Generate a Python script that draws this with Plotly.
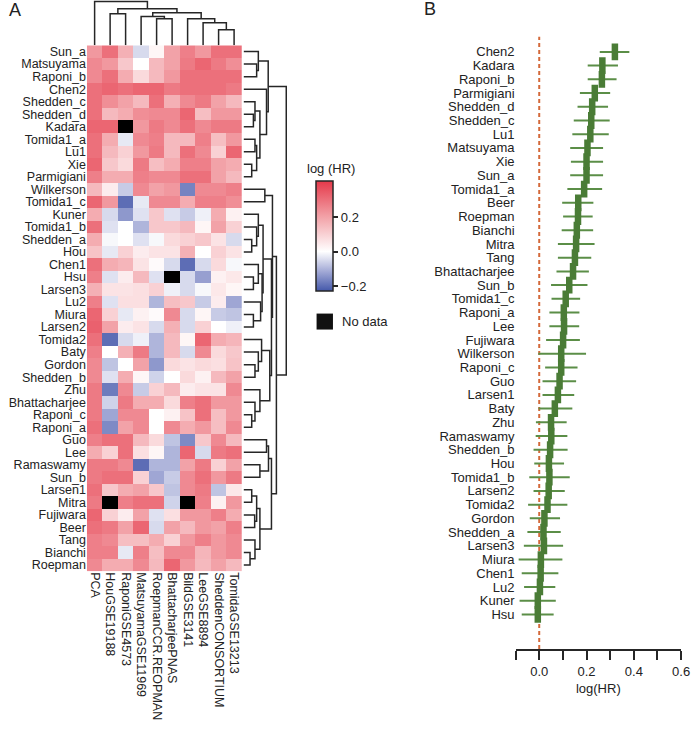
import plotly.graph_objects as go

# ---------------- data ----------------
row_names = ["Sun_a", "Matsuyama", "Raponi_b", "Chen2", "Shedden_c", "Shedden_d", "Kadara",
             "Tomida1_a", "Lu1", "Xie", "Parmigiani", "Wilkerson", "Tomida1_c", "Kuner",
             "Tomida1_b", "Shedden_a", "Hou", "Chen1", "Hsu", "Larsen3", "Lu2", "Miura",
             "Larsen2", "Tomida2", "Baty", "Gordon", "Shedden_b", "Zhu", "Bhattacharjee",
             "Raponi_c", "Raponi_a", "Guo", "Lee", "Ramaswamy", "Sun_b", "Larsen1", "Mitra",
             "Fujiwara", "Beer", "Tang", "Bianchi", "Roepman"]

col_names = ["PCA", "HouGSE19188", "RaponiGSE4573", "MatsuyamaGSE11969", "RoepmanCCR.REOPMAN",
             "BhattacharjeePNAS", "BildGSE3141", "LeeGSE8894", "SheddenCONSORTIUM", "TomidaGSE13213"]

N = None
log_hr = [
    [0.22, 0.30, 0.17, -0.05, 0.02, 0.20, 0.27, 0.22, 0.30, 0.30],
    [0.25, 0.22, 0.12, 0.00, 0.15, 0.20, 0.28, 0.32, 0.28, 0.24],
    [0.25, 0.30, 0.18, 0.08, 0.15, 0.22, 0.30, 0.30, 0.30, 0.30],
    [0.30, 0.32, 0.30, 0.32, 0.32, 0.28, 0.30, 0.30, 0.30, 0.28],
    [0.30, 0.24, 0.20, 0.15, 0.30, 0.17, 0.25, 0.28, 0.20, 0.15],
    [0.30, 0.15, 0.18, 0.24, 0.25, 0.25, 0.32, 0.14, 0.22, 0.22],
    [0.32, 0.32, N, 0.22, 0.28, 0.25, 0.30, 0.25, 0.28, 0.28],
    [0.30, 0.18, -0.03, 0.25, 0.27, 0.15, 0.15, 0.27, 0.14, 0.22],
    [0.30, 0.15, 0.10, 0.22, 0.28, 0.15, 0.30, 0.25, 0.10, 0.32],
    [0.32, 0.12, 0.08, 0.28, 0.14, 0.18, 0.27, 0.27, 0.20, 0.18],
    [0.27, 0.18, 0.18, 0.27, 0.25, 0.25, 0.30, 0.30, 0.20, 0.15],
    [0.15, 0.04, -0.07, 0.25, 0.20, 0.22, -0.17, 0.25, 0.25, 0.27],
    [0.32, 0.22, -0.20, -0.03, 0.25, 0.25, 0.18, 0.27, 0.27, 0.24],
    [0.18, -0.05, -0.14, -0.04, 0.12, -0.04, -0.07, -0.02, 0.18, 0.03],
    [0.30, -0.04, 0.00, -0.10, 0.12, 0.12, 0.15, 0.02, 0.20, 0.10],
    [0.18, -0.01, 0.00, -0.04, -0.01, 0.08, 0.10, 0.12, 0.06, -0.05],
    [0.13, -0.03, 0.10, 0.04, 0.06, 0.06, 0.17, 0.00, 0.10, 0.06],
    [0.30, 0.18, 0.16, 0.06, 0.01, -0.05, -0.20, -0.05, 0.08, -0.01],
    [0.27, -0.04, 0.04, 0.15, -0.04, N, -0.05, -0.13, 0.03, 0.05],
    [0.17, 0.06, 0.06, 0.07, 0.10, -0.02, -0.05, -0.01, 0.05, 0.02],
    [0.27, -0.04, 0.07, 0.07, -0.10, 0.14, 0.12, -0.07, 0.04, -0.12],
    [0.32, 0.10, -0.03, 0.03, 0.01, 0.25, -0.05, 0.02, -0.07, -0.08],
    [0.33, 0.20, 0.04, 0.06, -0.05, 0.17, -0.05, 0.10, 0.00, -0.02],
    [0.30, -0.20, -0.05, -0.02, -0.10, 0.15, 0.02, 0.32, 0.18, 0.16],
    [0.27, 0.00, 0.17, 0.28, -0.10, 0.15, -0.05, 0.25, 0.08, 0.12],
    [0.25, -0.08, 0.00, 0.20, -0.14, 0.08, 0.06, 0.08, 0.07, 0.13],
    [0.25, -0.04, 0.18, 0.02, -0.06, 0.00, 0.08, 0.03, 0.15, 0.20],
    [0.28, -0.18, 0.25, -0.07, 0.10, 0.15, 0.04, 0.06, 0.06, 0.25],
    [0.28, -0.06, 0.28, 0.18, 0.18, 0.08, 0.27, 0.30, 0.22, 0.22],
    [0.28, -0.12, 0.25, 0.25, 0.00, 0.03, 0.13, 0.30, 0.14, 0.22],
    [0.30, -0.16, 0.20, 0.25, 0.00, 0.25, 0.18, 0.22, 0.14, 0.25],
    [0.27, 0.30, 0.30, 0.15, 0.08, -0.08, -0.16, 0.12, 0.25, 0.15],
    [0.18, 0.10, 0.30, 0.07, 0.02, -0.10, 0.32, -0.05, 0.28, 0.30],
    [0.28, 0.28, 0.25, -0.20, -0.10, -0.10, 0.20, 0.28, 0.10, 0.20],
    [0.28, 0.30, 0.30, 0.10, -0.12, -0.07, 0.25, 0.30, 0.22, 0.28],
    [0.30, 0.12, 0.18, 0.20, 0.12, -0.08, 0.25, 0.28, -0.08, 0.05],
    [0.28, N, 0.27, 0.30, 0.30, -0.06, N, 0.27, 0.03, 0.22],
    [0.32, 0.10, 0.04, 0.20, -0.04, 0.07, 0.22, 0.22, 0.27, 0.18],
    [0.30, 0.28, 0.20, 0.32, -0.05, 0.20, 0.15, 0.22, 0.20, 0.27],
    [0.27, 0.25, 0.14, 0.14, 0.18, 0.10, 0.22, 0.27, 0.22, 0.25],
    [0.27, 0.27, -0.03, 0.27, 0.14, 0.25, 0.25, 0.16, 0.22, 0.25],
    [0.25, 0.18, 0.18, 0.25, 0.15, 0.32, 0.22, 0.15, 0.20, 0.15],
]

# dendrograms: (merge height, left, right); leaves are row / column indices
col_tree = (44, 0, (36.7, (31.7, 1, 2),
                    (32.7, (29, 3, (26.7, 4, 5)),
                           (26.7, 6, (22.7, 7, (15.7, 8, 9))))))

row_top = (24.7, (14.7, 0, (13, 1, 2)),
           (23, 3, (16.3, (11.3, 4, (9.7, 5, 6)), (13, (11.3, 7, 8), (8, 9, 10)))))
row_mid = (29, (21.3, 11, 12),
           (28, (19.5, (14.7, 13, (13, 14, (8, 15, 16))),
                 (18.5, (14.7, 17, (9.7, 18, 19)), (17, 20, (9.7, 21, 22)))),
                (26.3, (18, 23, (14.7, 24, (11.3, 25, 26))),
                       (16.3, 27, (11.3, 28, (8, 29, 30))))))
row_low = (28, (25, (23, 31, 32), (16.3, 33, 34)),
           (16.3, (13, (8, 35, 36), (11, 37, 38)), (11.3, 39, (6.3, 40, 41))))
row_tree = (43, row_top, (33, row_mid, row_low))

forest_names = ["Chen2", "Kadara", "Raponi_b", "Parmigiani", "Shedden_d", "Shedden_c", "Lu1",
                "Matsuyama", "Xie", "Sun_a", "Tomida1_a", "Beer", "Roepman", "Bianchi", "Mitra",
                "Tang", "Bhattacharjee", "Sun_b", "Tomida1_c", "Raponi_a", "Lee", "Fujiwara",
                "Wilkerson", "Raponi_c", "Guo", "Larsen1", "Baty", "Zhu", "Ramaswamy",
                "Shedden_b", "Hou", "Tomida1_b", "Larsen2", "Tomida2", "Gordon", "Shedden_a",
                "Larsen3", "Miura", "Chen1", "Lu2", "Kuner", "Hsu"]
forest_est = [0.320, 0.267, 0.265, 0.235, 0.224, 0.220, 0.216, 0.204, 0.200, 0.200, 0.190,
              0.165, 0.164, 0.159, 0.156, 0.151, 0.143, 0.127, 0.112, 0.104, 0.105, 0.101,
              0.093, 0.093, 0.086, 0.079, 0.066, 0.050, 0.051, 0.046, 0.041, 0.043, 0.040,
              0.035, 0.022, 0.018, 0.020, 0.007, 0.006, 0.003, -0.006, -0.006]
forest_lo = [0.256, 0.205, 0.205, 0.172, 0.162, 0.146, 0.140, 0.131, 0.134, 0.131, 0.119,
             0.097, 0.101, 0.095, 0.079, 0.079, 0.073, 0.050, 0.052, 0.043, 0.043, 0.029,
             -0.004, 0.025, 0.014, 0.014, -0.003, -0.014, -0.015, -0.024, -0.021, -0.042,
             -0.024, -0.047, -0.040, -0.050, -0.065, -0.087, -0.074, -0.064, -0.083, -0.074]
forest_hi = [0.381, 0.333, 0.327, 0.300, 0.291, 0.298, 0.294, 0.270, 0.270, 0.270, 0.266,
             0.229, 0.226, 0.228, 0.234, 0.220, 0.210, 0.204, 0.173, 0.170, 0.169, 0.172,
             0.198, 0.162, 0.156, 0.148, 0.140, 0.116, 0.119, 0.120, 0.105, 0.129, 0.108,
             0.119, 0.088, 0.091, 0.101, 0.098, 0.081, 0.068, 0.070, 0.061]

forest_ticks = [-0.1, 0.0, 0.1, 0.2, 0.3, 0.4, 0.5, 0.6]
forest_ticktext = ["", "0.0", "", "0.2", "", "0.4", "", "0.6"]
cbar_ticks = [-0.2, 0.0, 0.2]
cbar_ticktext = ["\u22120.2", "0.0", "0.2"]

# ---------------- helpers ----------------
W, H = 699, 737
FONT = "Liberation Sans, Arial, Helvetica, sans-serif"
TXT = "#222222"
LINE = "#262626"


def px(x):
    return x / W


def py(y):
    return 1 - y / H


def dendro(node):
    if isinstance(node, int):
        return float(node), 0.0, []
    h, a, b = node
    pa, ha, sa = dendro(a)
    pb, hb, sb = dendro(b)
    seg = [(pa, ha), (pa, h), (pb, h), (pb, hb)]
    return (pa + pb) / 2, h, sa + sb + [seg]


def seg_xy(segs, swap=False):
    xs, ys = [], []
    for s in segs:
        for p, h in s:
            if swap:
                xs.append(h); ys.append(p)
            else:
                xs.append(p); ys.append(h)
        xs.append(None); ys.append(None)
    return xs, ys


# ---------------- figure ----------------
fig = go.Figure()

zmin, zmax = -0.23, 0.41
mid = (0 - zmin) / (zmax - zmin)
cscale = [[0, "#4458AA"], [mid * 0.5, "#A3AAD6"], [mid, "#FFFFFF"],
          [mid + (1 - mid) * 0.5, "#F2A0A6"], [1, "#E5394A"]]

fig.add_trace(go.Heatmap(
    z=log_hr, x=list(range(len(col_names))), y=list(range(len(row_names))),
    colorscale=cscale, zmin=zmin, zmax=zmax, hoverongaps=False,
    xaxis="x", yaxis="y",
    colorbar=dict(
        x=px(320), xanchor="left", xpad=0, xref="paper",
        y=py(236.7), yanchor="middle", ypad=0, yref="paper",
        thickness=17, thicknessmode="pixels", len=110, lenmode="pixels",
        outlinewidth=1.5, outlinecolor=LINE,
        tickvals=cbar_ticks, ticktext=cbar_ticktext,
        ticks="outside", ticklen=5, tickwidth=2, tickcolor=LINE,
        tickfont=dict(family=FONT, size=13, color=TXT),
    ),
))

missing = [[1 if v is None else None for v in r] for r in log_hr]
fig.add_trace(go.Heatmap(
    z=missing, x=list(range(len(col_names))), y=list(range(len(row_names))),
    colorscale=[[0, "black"], [1, "black"]], zmin=0, zmax=1, showscale=False,
    hoverongaps=False, xaxis="x", yaxis="y",
))

_, _, csegs = dendro(col_tree)
cx, cy = seg_xy(csegs)
fig.add_trace(go.Scatter(x=cx, y=cy, mode="lines", line=dict(color=LINE, width=1.5),
                         xaxis="x2", yaxis="y2", hoverinfo="skip"))

_, _, rsegs = dendro(row_tree)
rx, ry = seg_xy(rsegs, swap=True)
fig.add_trace(go.Scatter(x=rx, y=ry, mode="lines", line=dict(color=LINE, width=1.5),
                         xaxis="x3", yaxis="y3", hoverinfo="skip"))

GREEN = "#4A7C36"
err_plus = [h - e for h, e in zip(forest_hi, forest_est)]
err_minus = [e - l for e, l in zip(forest_est, forest_lo)]
fig.add_trace(go.Scatter(
    x=forest_est, y=list(range(len(forest_names))), mode="markers",
    marker=dict(symbol="line-ns", size=12, color=GREEN, line=dict(width=6.5, color=GREEN)),
    error_x=dict(type="data", symmetric=False, array=err_plus, arrayminus=err_minus,
                 thickness=2, width=0, color="#5B8E47"),
    xaxis="x4", yaxis="y4",
))

hm_x = [px(88), px(245)]
hm_y = [py(572), py(45.4)]
tickfont = dict(family=FONT, size=13, color=TXT)
rowfont = dict(family=FONT, size=12.5, color=TXT)

fig.update_layout(
    width=W, height=H, margin=dict(l=0, r=0, t=0, b=0),
    paper_bgcolor="white", plot_bgcolor="white", showlegend=False,
    font=dict(family=FONT, size=13, color=TXT),
    xaxis=dict(domain=hm_x, range=[-0.5, 9.5], anchor="y",
               tickvals=list(range(len(col_names))), ticktext=col_names,
               tickangle=90, ticks="", showgrid=False, zeroline=False, showline=False,
               tickfont=rowfont),
    yaxis=dict(domain=hm_y, range=[41.5, -0.5], anchor="x",
               tickvals=list(range(len(row_names))), ticktext=row_names,
               ticks="", showgrid=False, zeroline=False, showline=False, tickfont=rowfont),
    xaxis2=dict(domain=hm_x, range=[-0.5, 9.5], anchor="y2", visible=False),
    yaxis2=dict(domain=[py(45.4), 1], range=[0, 45.4], anchor="x2", visible=False),
    xaxis3=dict(domain=[px(245), px(292)], range=[-2, 45], anchor="y3", visible=False),
    yaxis3=dict(domain=hm_y, range=[41.5, -0.5], anchor="x3", visible=False),
    xaxis4=dict(domain=[px(522.3), px(690)], range=[-0.1, 0.6], anchor="y4",
                tickvals=forest_ticks, ticktext=forest_ticktext,
                ticks="outside", ticklen=9, tickwidth=2, tickcolor=LINE,
                showline=True, linewidth=2, linecolor=LINE, ticklabeloverflow="allow",
                showgrid=False, zeroline=False, tickfont=tickfont,
                title=dict(text="log(HR)", font=tickfont, standoff=6)),
    yaxis4=dict(domain=[py(650), py(36.7)], range=[43.53, -1.11], anchor="x4",
                tickvals=list(range(len(forest_names))), ticktext=forest_names,
                ticks="", showgrid=False, zeroline=False, showline=False, tickfont=tickfont),
)

fig.add_shape(type="line", xref="x4", yref="y4 domain", x0=0, x1=0, y0=0, y1=1,
              line=dict(color="#D4693A", width=2, dash="4px,3px"), layer="below")

fig.add_shape(type="rect", xref="paper", yref="paper",
              x0=px(320.7), x1=px(337.3), y0=py(330), y1=py(314),
              fillcolor="#111111", line=dict(width=0))

fig.add_annotation(text="No data", xref="paper", yref="paper", x=px(344), y=py(322),
                   xanchor="left", yanchor="middle", showarrow=False, font=tickfont)
fig.add_annotation(text="log (HR)", xref="paper", yref="paper", x=px(335), y=py(169),
                   xanchor="center", yanchor="middle", showarrow=False, font=tickfont)
fig.add_annotation(text="A", xref="paper", yref="paper", x=px(7), y=py(10),
                   xanchor="left", yanchor="middle", showarrow=False,
                   font=dict(family=FONT, size=18, color=TXT))
fig.add_annotation(text="B", xref="paper", yref="paper", x=px(428), y=py(9),
                   xanchor="left", yanchor="middle", showarrow=False,
                   font=dict(family=FONT, size=18, color=TXT))

fig.write_html("out.html", config={"displayModeBar": False},
               post_script="document.body.style.margin='0';document.body.style.overflow='hidden';")
